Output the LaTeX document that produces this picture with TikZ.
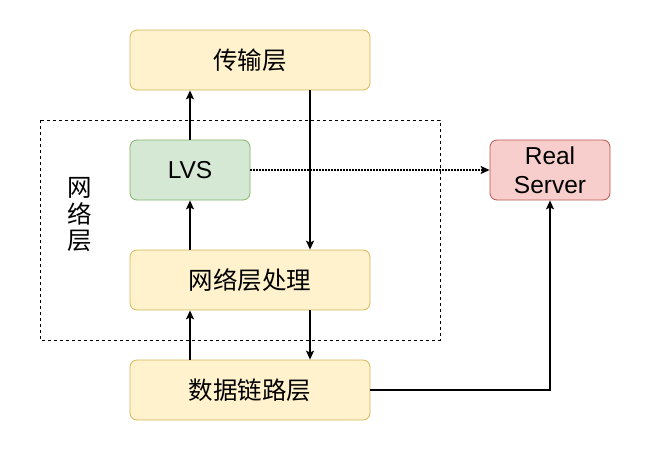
\documentclass[tikz,border=0pt]{standalone}
\usepackage{fontspec}
\setmainfont{Liberation Sans}
\newfontfamily\cjk{Noto Sans CJK SC}
\usetikzlibrary{arrows.meta}
\definecolor{yfill}{HTML}{FFF2CC}
\definecolor{ydraw}{HTML}{D6B656}
\definecolor{gfill}{HTML}{D5E8D4}
\definecolor{gdraw}{HTML}{82B366}
\definecolor{rfill}{HTML}{F8CECC}
\definecolor{rdraw}{HTML}{B85450}

\begin{document}
\begin{tikzpicture}[x=1pt,y=-1pt,line width=1.3pt,
  >={Stealth[length=9pt,width=8pt,inset=2pt]},
  layer/.style={draw=ydraw,fill=yfill,line width=0.8pt,rounded corners=7pt,
    minimum width=240pt,minimum height=60pt,inner sep=0pt,
    font=\cjk\fontsize{24.5}{28}\selectfont},
  lvsbox/.style={draw=gdraw,fill=gfill,line width=0.8pt,rounded corners=7pt,
    minimum width=120pt,minimum height=60pt,inner sep=0pt,
    font=\fontsize{24.5}{28}\selectfont},
  rsbox/.style={draw=rdraw,fill=rfill,line width=0.8pt,rounded corners=7pt,
    minimum width=120pt,minimum height=60pt,inner sep=0pt,align=center,
    font=\fontsize{24.5}{29}\selectfont}]
  \useasboundingbox (0,0) rectangle (651,451);
  \draw[line width=0.8pt,dash pattern=on 3pt off 3pt] (40,120) rectangle (440,340);
  \node[align=center,font=\cjk\fontsize{24.5}{26.5}\selectfont] (netlabel) at (80,215) {网\\络\\层};
  \node[layer] (trans) at (250,60) {传输层};
  \node[lvsbox] (lvs) at (190,170) {LVS};
  \node[layer] (netproc) at (250,280) {网络层处理};
  \node[layer] (link) at (250,390) {数据链路层};
  \node[rsbox] (rs) at (550,170) {Real\\Server};
  \draw[->] (lvs.north) -- (lvs.north |- trans.south);
  \draw[->] ([xshift=60pt]trans.south) -- ([xshift=60pt]netproc.north);
  \draw[->] ([xshift=-60pt]netproc.north) -- (lvs.south);
  \draw[->] ([xshift=-60pt]link.north) -- ([xshift=-60pt]netproc.south);
  \draw[->] ([xshift=60pt]netproc.south) -- ([xshift=60pt]link.north);
  \draw[->,dash pattern=on 1.5pt off 1.5pt] (lvs) -- (rs);
  \draw[->] (link) -| (rs);
\end{tikzpicture}
\end{document}
